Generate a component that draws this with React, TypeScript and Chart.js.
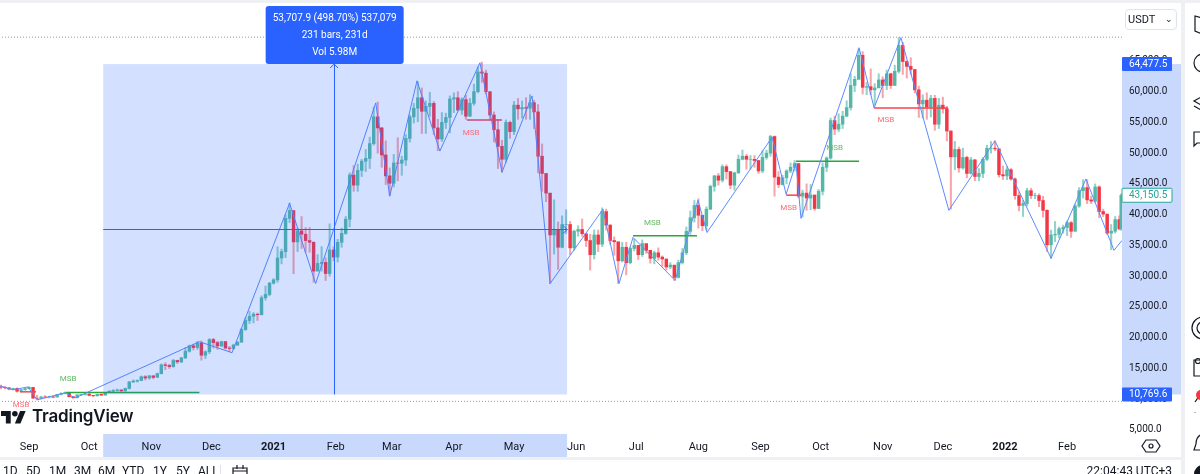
import { useEffect, useRef } from 'react'
import { Chart, registerables } from 'chart.js'

Chart.register(...registerables)

const FONT = 'Roboto, sans-serif'
const BLUE = '#2962ff'
const UP = '#55b8a6'
const DOWN = '#f23645'

// days counted from 1 Sep 2020
const monthDays = [0, 30, 61, 91, 122, 153, 181, 212, 242, 273, 303, 334, 365, 395, 426, 456, 487, 518]
const monthLabels = ['Sep', 'Oct', 'Nov', 'Dec', '2021', 'Feb', 'Mar', 'Apr', 'May', 'Jun', 'Jul', 'Aug', 'Sep', 'Oct', 'Nov', 'Dec', '2022', 'Feb']
const priceTicks = [5000, 10000, 15000, 20000, 25000, 30000, 35000, 40000, 45000, 50000, 55000, 60000, 65000]
const priceMin = 3695
const priceMax = 72780

// one candle per two days, first one on day -14, last one on day 545
const closes = [
  11950, 11850, 11650, 11750, 11300, 11530, 11710, 11920, 10170, 10160,
  10370, 10340, 10390, 10330, 10790, 10950, 11080, 10410, 10240, 10690,
  10770, 10840, 10620, 10550, 10790, 10670, 11060, 11300, 11430, 11500,
  11360, 11750, 12800, 12930, 13030, 13650, 13450, 13800, 13550, 14150,
  15590, 15480, 15300, 16300, 16070, 16720, 17800, 18680, 18400, 19160,
  17150, 17720, 19700, 19200, 18650, 19370, 18320, 18250, 18800, 19270,
  21310, 22800, 23480, 23820, 23730, 26490, 27040, 28870, 29400, 32950,
  33990, 39400, 40670, 35570, 37370, 36820, 35790, 35510, 30820, 32070,
  32250, 30430, 34260, 33110, 35510, 36950, 39260, 46430, 44800, 47200,
  48700, 49150, 51550, 55900, 54100, 49700, 46300, 45100, 48400, 48370,
  48880, 52390, 55900, 57300, 59000, 56800, 57600, 58090, 54100, 52300,
  55000, 55800, 58800, 59000, 57000, 58700, 56000, 58100, 60000, 63200,
  63000, 60000, 56200, 53800, 51100, 49000, 55000, 53500, 57800, 57200,
  57400, 57300, 58200, 56700, 49500, 46700, 43500, 36700, 37500, 34700,
  38400, 38400, 34600, 37300, 37600, 36900, 35800, 33500, 36700, 35200,
  40500, 38300, 35800, 35600, 32500, 34700, 32200, 34500, 35000, 33500,
  35300, 34200, 32900, 33800, 33100, 32800, 31500, 31800, 29800, 32200,
  33800, 37300, 39500, 41500, 39900, 38200, 40900, 44600, 46300, 45600,
  47800, 47000, 44800, 46800, 49000, 49500, 49000, 49000, 48800, 47100,
  49300, 50000, 52700, 46100, 44900, 46000, 47100, 47700, 48300, 43000,
  43500, 42700, 43200, 41000, 43800, 47700, 49200, 55300, 53900, 54700,
  56000, 57400, 61000, 62000, 65900, 60700, 60800, 60300, 60600, 61900,
  61000, 62900, 61000, 63300, 67500, 64900, 64100, 63600, 60300, 58000,
  58600, 57500, 58900, 54700, 57800, 57200, 53600, 49400, 50600, 47600,
  49300, 46700, 48900, 46200, 46700, 49000, 50800, 50800, 50700, 46500,
  46300, 47300, 45800, 43100, 41500, 41800, 43900, 43100, 43100, 42300,
  40700, 35100, 36700, 36800, 37700, 37900, 38700, 37300, 41400, 43900,
  44400, 42400, 42200, 44500, 40500, 40100, 37000, 37300, 39200, 37700,
  43150.5,
]
const highs = [
  12300, 12050, 11900, 11800, 11850, 11600, 11800, 12050, 11950, 10650,
  10450, 10600, 10500, 10500, 10800, 11050, 11180, 11100, 10440, 10750,
  10800, 10950, 10880, 10650, 10800, 10900, 11100, 11400, 11550, 11650,
  11540, 11800, 12900, 13150, 13150, 13780, 13850, 13850, 13820, 14250,
  15750, 15950, 15680, 16480, 16350, 16800, 18400, 18800, 18950, 19400,
  19480, 17880, 19850, 19900, 19420, 19420, 19400, 18600, 18950, 19400,
  21500, 23250, 24300, 24100, 24000, 26800, 28400, 29000, 29600, 34800,
  34400, 40000, 41900, 38400, 37800, 39700, 37900, 37900, 35600, 33500,
  34800, 33000, 38500, 34800, 36000, 37800, 39700, 46800, 48000, 48200,
  49000, 50600, 52600, 57500, 58300, 54200, 52000, 47600, 49800, 52500,
  49500, 53000, 56200, 58100, 61600, 60600, 58500, 59900, 58400, 55500,
  56600, 56500, 59300, 59800, 60000, 59000, 59400, 58900, 61200, 64000,
  64800, 63500, 57500, 56700, 55500, 52100, 55400, 55200, 58400, 58900,
  58500, 59000, 59500, 58600, 57900, 51500, 46300, 43500, 42400, 38800,
  39800, 40800, 38900, 37500, 38200, 39300, 36400, 36800, 37500, 37500,
  41100, 40900, 38400, 36400, 33300, 35500, 35500, 34700, 36000, 35000,
  35900, 35100, 33900, 34100, 34600, 33300, 32700, 32200, 31100, 32600,
  34500, 38000, 40600, 42300, 42600, 39800, 41300, 44800, 46400, 46700,
  48100, 48100, 47000, 46900, 49700, 50500, 49800, 49600, 49600, 48800,
  50400, 50500, 52900, 52800, 47000, 46400, 47300, 48400, 48800, 48300,
  44000, 45000, 44900, 43000, 44100, 48400, 49400, 55700, 56000, 56400,
  56800, 58500, 62900, 62500, 66900, 66500, 61500, 63700, 61300, 62900,
  62400, 63500, 63000, 64300, 68800, 68000, 65000, 65500, 61000, 60900,
  59500, 59800, 59400, 59400, 58900, 59100, 57600, 53600, 51900, 51000,
  50800, 49500, 49300, 49000, 47500, 49300, 51300, 51900, 52000, 48500,
  47900, 47800, 47500, 46000, 43700, 42300, 44300, 44300, 43500, 43400,
  43000, 40800, 37500, 38900, 38000, 38300, 39000, 38900, 41700, 44400,
  45700, 45700, 43000, 45000, 44700, 40900, 40000, 38400, 39700, 39800,
  43400,
]
const lows = [
  11700, 11680, 11530, 11530, 11150, 11250, 11480, 11670, 10150, 9900,
  10030, 10200, 10200, 10230, 10430, 10700, 10850, 10350, 10140, 10200,
  10640, 10650, 10530, 10420, 10500, 10580, 10620, 11100, 11200, 11280,
  11230, 11300, 11650, 12720, 12780, 13000, 13130, 13250, 13320, 13550,
  14100, 14800, 15000, 15200, 15800, 15950, 16600, 17650, 18000, 18100,
  16350, 16600, 17400, 18300, 18100, 18600, 18150, 17700, 18100, 18700,
  19250, 21200, 22300, 22400, 22800, 23700, 26100, 26800, 28700, 29000,
  32000, 33000, 38700, 30400, 34000, 34500, 33900, 33900, 29000, 30900,
  30800, 29300, 30000, 32500, 32300, 34700, 36800, 38000, 43800, 43800,
  46200, 47000, 47500, 51300, 50000, 47700, 44900, 43100, 44500, 45500,
  46400, 48000, 51800, 54900, 55100, 53200, 53200, 56000, 53000, 50400,
  51900, 54000, 53300, 56600, 56900, 56300, 55500, 56000, 57800, 59800,
  61500, 59600, 55400, 51800, 47500, 46900, 48500, 52400, 53000, 55500,
  55700, 55500, 55500, 54000, 46800, 43800, 42100, 28800, 33600, 31100,
  34600, 36900, 33500, 34200, 36500, 36500, 34800, 31000, 32800, 34000,
  34800, 37500, 35200, 33400, 28800, 32300, 30200, 32000, 34100, 32700,
  33200, 33700, 32100, 32000, 32600, 31600, 31000, 31200, 29300, 29700,
  32000, 33500, 36800, 38800, 37800, 37400, 37500, 40800, 43800, 44800,
  45300, 45800, 44200, 44000, 46700, 48900, 47400, 47400, 47700, 46700,
  46800, 49000, 49500, 43000, 44400, 44800, 45000, 46800, 47100, 42700,
  39600, 40700, 40800, 40700, 41000, 43200, 47000, 49000, 53000, 53500,
  54000, 56000, 57000, 60000, 62000, 59600, 59500, 59500, 57800, 60700,
  59000, 60300, 60500, 61000, 63000, 62800, 62200, 62800, 59800, 55800,
  55700, 55500, 55900, 53700, 54000, 56500, 52000, 40900, 47300, 46900,
  47400, 46000, 46600, 45500, 45500, 46000, 48800, 50000, 50400, 46100,
  45700, 45700, 45600, 42500, 40600, 39700, 41400, 42600, 42600, 41300,
  39600, 34000, 32900, 35600, 36200, 37000, 36600, 36300, 37300, 41200,
  42700, 41800, 41800, 42000, 39500, 39700, 36800, 34300, 37000, 37500,
  37450,
]

const zigDays = [-14.5, -8, -0.5, 4, 18, 23, 85, 101.3, 130, 143, 173, 180, 193.6, 205, 225, 236, 251, 260, 286.4, 294.4, 301.4, 322.4, 333.8, 338.3, 370.8, 377.8, 382.7, 385.2, 414.2, 421.7, 435.1, 459, 482, 510, 527.4, 541.4, 545.4]
const zigPrices = [12180, 11520, 12000, 9900, 11030, 10220, 19350, 17560, 41860, 28800, 58170, 43000, 61760, 50340, 64700, 46900, 59300, 28800, 40880, 28800, 36300, 29300, 42350, 37100, 52600, 43300, 48400, 39400, 67140, 57350, 68770, 40700, 52000, 32900, 45800, 34200, 35800]

const msbStart = [18.5, -4.5, 218.5, 301.4, 377.8, 382.7, 421.7]
const msbEnd = [85, 3.5, 236, 333.3, 385.2, 414.2, 458.6]
const msbPrice = [11100, 11200, 55400, 36560, 43170, 48700, 57350]
const msbBull = [true, false, false, true, false, true, false]
const msbLabelDay = [19.5, -4, 220.6, 311, 379, 402, 427.6]
const msbLabelPrice = [13320, 9080, 53280, 38600, 41050, 50830, 55400]

const measureFrom = 37
const measureTo = 268.5
const measureMid = 152
const measureLow = 10769.6
const measureHigh = 64477.5
const lastPrice = 43150.5
const rangeHigh = 68850
const rangeLow = 9650
const measureLines = ['53,707.9 (498.70%) 537,079', '231 bars, 231d', 'Vol 5.98M']

const ranges = ['1D', '5D', '1M', '3M', '6M', 'YTD', '1Y', '5Y', 'ALL']
const rangeLeft = [3, 26, 49, 74, 98, 122, 153, 176, 198]

const candleDay = (i: number) => Math.min(-14 + i * 2, 545)
const openOf = (i: number) => (i === 0 ? 12000 : closes[i - 1])
const priceLabel = (v: number) => v.toLocaleString('en-US', { minimumFractionDigits: 1, maximumFractionDigits: 1 })

const overlay = {
  id: 'overlay',
  beforeDraw(chart: any) {
    const { ctx, scales: { x, y }, chartArea } = chart
    // white page, shaded bands of the measure tool on both axes
    ctx.save()
    ctx.fillStyle = '#fff'
    ctx.fillRect(0, 0, 1200, 474)
    ctx.fillStyle = '#c9d8fd'
    ctx.fillRect(chartArea.right, y.getPixelForValue(measureHigh), 59, y.getPixelForValue(measureLow) - y.getPixelForValue(measureHigh))
    ctx.fillRect(x.getPixelForValue(measureFrom), 434, x.getPixelForValue(measureTo) - x.getPixelForValue(measureFrom), 23)
    ctx.restore()
  },
  afterDatasetsDraw(chart: any) {
    const { ctx, scales: { x, y } } = chart
    const left = x.getPixelForValue(measureFrom)
    const right = x.getPixelForValue(measureTo)
    const top = y.getPixelForValue(measureHigh)
    const bottom = y.getPixelForValue(measureLow)
    const mid = x.getPixelForValue(measureMid)
    const cy = Math.round(y.getPixelForValue((measureHigh + measureLow) / 2))
    ctx.save()
    ctx.fillStyle = 'rgba(41,98,255,0.2)'
    ctx.fillRect(left, top, right - left, bottom - top)
    ctx.strokeStyle = BLUE
    ctx.lineWidth = 1
    ctx.beginPath()
    ctx.moveTo(Math.round(mid) + 0.5, bottom)
    ctx.lineTo(Math.round(mid) + 0.5, top)
    ctx.moveTo(mid - 3.5, top + 4)
    ctx.lineTo(mid + 0.5, top)
    ctx.lineTo(mid + 4.5, top + 4)
    ctx.moveTo(left, cy + 0.5)
    ctx.lineTo(right, cy + 0.5)
    ctx.moveTo(right - 4, cy - 3.5)
    ctx.lineTo(right, cy + 0.5)
    ctx.lineTo(right - 4, cy + 4.5)
    ctx.stroke()
    // MSB captions
    ctx.font = `8px ${FONT}`
    ctx.textAlign = 'center'
    ctx.textBaseline = 'middle'
    msbLabelDay.forEach((d, i) => {
      ctx.fillStyle = msbBull[i] ? '#66bb6a' : '#ff6b75'
      ctx.fillText('MSB', x.getPixelForValue(d), y.getPixelForValue(msbLabelPrice[i]))
    })
    ctx.restore()
  },
  afterDraw(chart: any) {
    const { ctx, scales: { x, y }, chartArea } = chart
    const mid = x.getPixelForValue(measureMid)
    ctx.save()
    // measure tool box
    ctx.fillStyle = BLUE
    ctx.beginPath()
    ctx.roundRect(mid - 68, 6, 138, 58, 3)
    ctx.fill()
    ctx.fillStyle = '#fff'
    ctx.font = `10px ${FONT}`
    ctx.textAlign = 'center'
    ctx.textBaseline = 'middle'
    measureLines.forEach((t, i) => ctx.fillText(t, mid + 1, 18 + i * 17))
    // price labels on the axis
    const tag = (v: number, bg: string, fg: string, border: string | null) => {
      const py = y.getPixelForValue(v)
      ctx.fillStyle = bg
      ctx.beginPath()
      ctx.roundRect(chartArea.right, py - 7, 50, 14, 1)
      ctx.fill()
      if (border) {
        ctx.strokeStyle = border
        ctx.stroke()
      }
      ctx.fillStyle = fg
      ctx.font = `10px ${FONT}`
      ctx.textAlign = 'left'
      ctx.fillText(priceLabel(v), chartArea.right + 7, py + 0.5)
    }
    tag(measureHigh, BLUE, '#fff', null)
    tag(measureLow, BLUE, '#fff', null)
    tag(lastPrice, '#fff', '#26a69a', '#26a69a')
    ctx.restore()
  },
}

function Toolbar() {
  const s = { fill: 'none', stroke: '#131722', strokeWidth: 1.2 }
  return (
    <svg width={1200} height={474} style={{ position: 'absolute', left: 0, top: 0, pointerEvents: 'none' }}>
      {/* panel frames */}
      <rect x={0} y={0} width={1200} height={3} fill="#eef0f4" />
      <rect x={1181} y={3} width={4} height={471} fill="#eef0f4" />
      <rect x={0} y={457} width={1181} height={3} fill="#eef0f4" />
      {/* settings */}
      <path d="M1146 440 L1156 440 L1160 446 L1156 452 L1146 452 L1142 446 Z" {...s} />
      <circle cx={1151} cy={446} r={2} {...s} />
      {/* right toolbar, cut off by the window */}
      <path d="M1202 18 L1195 16 L1195 31 L1202 34" {...s} />
      <circle cx={1203} cy={63} r={9} {...s} />
      <path d="M1203 96 L1194 101 L1203 106 M1194 106 L1203 111" {...s} />
      <path d="M1203 132 L1194 132 L1194 146 L1197 143 L1203 143" {...s} />
      <circle cx={1203} cy={328} r={11} {...s} />
      <circle cx={1203} cy={328} r={6} {...s} />
      <path d="M1203 360 L1194 360 L1194 376 L1203 376" {...s} />
      <circle cx={1198} cy={361} r={2.5} {...s} />
      <path d="M1195 402 L1202 392 M1195 412 L1195 412.5" {...s} />
      <circle cx={1201} cy={395} r={5} fill="#f23645" />
      <path d="M1203 434 Q1196 436 1196 444 L1194 450 L1203 450" {...s} />
      <circle cx={1203} cy={474} r={9} fill="#131722" />
      {/* date range bar */}
      <line x1={220.5} y1={465} x2={220.5} y2={474} stroke="#e0e3eb" />
      <path d="M233 474 L233 468 L247 468 L247 474 M233 471 L247 471 M237 465 L237 469 M243 465 L243 469" {...s} />
    </svg>
  )
}

export default function App() {
  const canvasRef = useRef<HTMLCanvasElement>(null)

  useEffect(() => {
    if (!canvasRef.current) return
    const up = closes.map((c, i) => c >= openOf(i))
    const line = (data: { x: number; y: number }[], color: string, width: number, dash: number[] = []) => ({
      type: 'line' as const,
      data,
      borderColor: color,
      borderWidth: width,
      borderDash: dash,
      pointRadius: 0,
      tension: 0,
      order: 1,
    })
    const chart = new Chart(canvasRef.current, {
      type: 'bar',
      data: {
        datasets: [
          {
            data: closes.map((_, i) => ({ x: candleDay(i), y: [lows[i], highs[i]] })),
            backgroundColor: up.map(u => (u ? 'rgba(38,166,154,0.5)' : 'rgba(242,54,69,0.45)')),
            barThickness: 1.4,
            borderWidth: 0,
            grouped: false,
            order: 5,
          },
          {
            data: closes.map((c, i) => ({ x: candleDay(i), y: [openOf(i), c] })),
            backgroundColor: up.map(u => (u ? UP : DOWN)),
            barThickness: 2.8,
            borderWidth: 0,
            grouped: false,
            order: 4,
          },
          line(zigDays.map((d, i) => ({ x: d, y: zigPrices[i] })), '#5c8bff', 1),
          ...msbStart.map((d, i) =>
            line([{ x: d, y: msbPrice[i] }, { x: msbEnd[i], y: msbPrice[i] }], msbBull[i] ? '#2aa63a' : '#f4434f', 1.5),
          ),
          line([{ x: -15, y: rangeHigh }, { x: 546, y: rangeHigh }], '#9598a1', 1, [1, 2]),
          line([{ x: -15, y: rangeLow }, { x: 546, y: rangeLow }], '#9598a1', 1, [1, 2]),
        ] as any,
      },
      options: {
        animation: false,
        responsive: false,
        layout: { autoPadding: false, padding: { top: 6, right: 19, bottom: 14, left: 0 } },
        plugins: { legend: { display: false }, tooltip: { enabled: false } },
        scales: {
          x: {
            type: 'linear',
            offset: false,
            min: -14.5,
            max: 545.4,
            border: { display: false },
            grid: { display: false, offset: false, drawTicks: false },
            afterBuildTicks: (scale: any) => {
              scale.ticks = monthDays.map(value => ({ value }))
            },
            afterFit: (scale: any) => {
              scale.height = 22
            },
            ticks: {
              autoSkip: false,
              maxRotation: 0,
              padding: 3,
              color: '#131722',
              font: (ctx: any) => ({
                family: FONT,
                size: 11,
                weight: monthLabels[monthDays.indexOf(ctx.tick?.value)]?.startsWith('20') ? 'bold' : 'normal',
              }),
              callback: (v: any) => monthLabels[monthDays.indexOf(v)],
            },
          },
          y: {
            position: 'right',
            min: priceMin,
            max: priceMax,
            border: { display: false },
            grid: { display: false, drawTicks: false },
            afterBuildTicks: (scale: any) => {
              scale.ticks = priceTicks.map(value => ({ value }))
            },
            afterFit: (scale: any) => {
              scale.width = 59
            },
            ticks: {
              padding: 7,
              color: '#131722',
              font: { family: FONT, size: 10 },
              callback: (v: any) => priceLabel(v),
            },
          },
        },
      } as any,
      plugins: [overlay],
    })
    return () => chart.destroy()
  }, [])

  return (
    <div style={{ position: 'fixed', left: 0, top: 0, width: 1200, height: 474, overflow: 'hidden', background: '#fff', fontFamily: FONT, color: '#131722' }}>
      <canvas ref={canvasRef} width={1200} height={474} style={{ display: 'block' }} />
      <Toolbar />
      <div style={{ position: 'absolute', left: 1125, top: 9, width: 52, height: 21, boxSizing: 'border-box', border: '1px solid #e0e3eb', borderRadius: 4, fontSize: 11, lineHeight: '19px', paddingLeft: 2 }}>
        USDT
        <span style={{ position: 'absolute', right: 3, top: 0, fontSize: 9 }}>⌄</span>
      </div>
      <svg width={25} height={20} viewBox="0 0 36 28" style={{ position: 'absolute', left: 1, top: 408 }}>
        <path d="M14 22H7V11H0V4h14v18zM28 22h-8l7.5-18h8L28 22z" fill="#131722" />
        <circle cx={20} cy={8} r={4} fill="#131722" />
      </svg>
      <div style={{ position: 'absolute', left: 32, top: 403, fontFamily: 'Inter, sans-serif', fontSize: 17, fontWeight: 600, lineHeight: '26px', letterSpacing: -0.2 }}>TradingView</div>
      {ranges.map((r, i) => (
        <div key={r} style={{ position: 'absolute', left: rangeLeft[i], top: 462, fontSize: 12, lineHeight: '18px' }}>{r}</div>
      ))}
      <div style={{ position: 'absolute', right: 28, top: 462, fontSize: 12, lineHeight: '18px' }}>22:04:43 UTC+3</div>
    </div>
  )
}
